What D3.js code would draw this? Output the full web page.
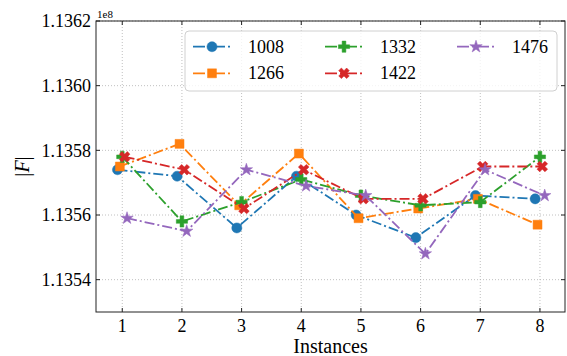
<!DOCTYPE html>
<html>
<head>
<meta charset="utf-8">
<script src="https://cdn.jsdelivr.net/npm/d3@7/dist/d3.min.js"></script>
<style>
  html, body { margin: 0; padding: 0; background: #fff; }
  svg { display: block; }
</style>
</head>
<body>
<svg id="chart" width="567" height="356"></svg>
<script>
// Instances along the x axis
const instances = [1, 2, 3, 4, 5, 6, 7, 8];
// Series names (shown in the legend)
const seriesNames = ["1008", "1266", "1332", "1422", "1476"];
// |F| values per series, in units of 1e8
const values1008 = [1.13574, 1.13572, 1.13556, 1.13572, 1.13560, 1.13553, 1.13566, 1.13565];
const values1266 = [1.13575, 1.13582, 1.13563, 1.13579, 1.13559, 1.13562, 1.13565, 1.13557];
const values1332 = [1.13578, 1.13558, 1.13564, 1.13571, 1.13566, 1.13563, 1.13564, 1.13578];
const values1422 = [1.13578, 1.13574, 1.13562, 1.13574, 1.13565, 1.13565, 1.13575, 1.13575];
const values1476 = [1.13559, 1.13555, 1.13574, 1.13569, 1.13566, 1.13548, 1.13574, 1.13566];
// Axis ticks
const yTicks = [1.1354, 1.1356, 1.1358, 1.1360, 1.1362];
const yTickLabels = ["1.1354", "1.1356", "1.1358", "1.1360", "1.1362"];
const xTicks = [1, 2, 3, 4, 5, 6, 7, 8];

const colors = ["#1f77b4", "#ff7f0e", "#2ca02c", "#d62728", "#9467bd"];
const allValues = [values1008, values1266, values1332, values1422, values1476];
// small horizontal shift per series so markers do not overlap
const shifts = [-0.08, -0.04, 0, 0.04, 0.08];

const FONT = "Liberation Serif";
const svg = d3.select("#chart");
const m = { left: 96, right: 565, top: 21, bottom: 312 };

const x = d3.scaleLinear().domain([0.56, 8.42]).range([m.left, m.right]);
const y = d3.scaleLinear().domain([1.1353, 1.1362]).range([m.bottom, m.top]);

// grid
const grid = svg.append("g");
grid.selectAll("line.gx").data(xTicks).join("line")
  .attr("x1", d => x(d)).attr("x2", d => x(d))
  .attr("y1", m.top).attr("y2", m.bottom)
  .attr("stroke", "#b0b0b0").attr("stroke-width", 0.8).attr("stroke-dasharray", "1,2");
grid.selectAll("line.gy").data(yTicks).join("line")
  .attr("x1", m.left).attr("x2", m.right)
  .attr("y1", d => y(d)).attr("y2", d => y(d))
  .attr("stroke", "#b0b0b0").attr("stroke-width", 0.8).attr("stroke-dasharray", "1,2");

// symbol generators
const symCircle = d3.symbol().type(d3.symbolCircle).size(80)();
const symSquare = d3.symbol().type(d3.symbolSquare).size(80)();
const symPlus = d3.symbol().type(d3.symbolCross).size(70)();
const symStar = d3.symbol().type(d3.symbolStar).size(48)();
const markers = [
  { d: symCircle, rot: 0 },
  { d: symSquare, rot: 0 },
  { d: symPlus, rot: 0 },
  { d: symPlus, rot: 45 },
  { d: symStar, rot: 0 }
];

const dash = "10,3,2,3";
const line = d3.line();

allValues.forEach((vals, i) => {
  const pts = vals.map((v, j) => [x(instances[j] + shifts[i]), y(v)]);
  const g = svg.append("g");
  g.append("path").attr("d", line(pts))
    .attr("fill", "none").attr("stroke", colors[i])
    .attr("stroke-width", 1.8).attr("stroke-dasharray", dash);
  g.selectAll("path.mk").data(pts).join("path")
    .attr("class", "mk")
    .attr("d", markers[i].d)
    .attr("transform", p => `translate(${p[0]},${p[1]}) rotate(${markers[i].rot})`)
    .attr("fill", colors[i]).attr("stroke", colors[i]).attr("stroke-width", 0.5);
});

// frame and inward ticks
const axisColor = "#222";
const tickLen = 4;
svg.append("rect").attr("x", m.left).attr("y", m.top)
  .attr("width", m.right - m.left).attr("height", m.bottom - m.top)
  .attr("fill", "none").attr("stroke", axisColor).attr("stroke-width", 1);
const ticks = svg.append("g").attr("stroke", axisColor).attr("stroke-width", 1);
xTicks.forEach(t => {
  ticks.append("line").attr("x1", x(t)).attr("x2", x(t)).attr("y1", m.bottom).attr("y2", m.bottom - tickLen);
  ticks.append("line").attr("x1", x(t)).attr("x2", x(t)).attr("y1", m.top).attr("y2", m.top + tickLen);
});
yTicks.forEach(t => {
  ticks.append("line").attr("x1", m.left).attr("x2", m.left + tickLen).attr("y1", y(t)).attr("y2", y(t));
  ticks.append("line").attr("x1", m.right).attr("x2", m.right - tickLen).attr("y1", y(t)).attr("y2", y(t));
});

// tick labels
svg.append("g").selectAll("text").data(xTicks).join("text")
  .attr("font-family", FONT)
  .attr("x", d => x(d)).attr("y", m.bottom + 20)
  .attr("text-anchor", "middle").attr("font-size", 18).attr("fill", "#000")
  .text(d => d);
svg.append("g").selectAll("text").data(yTicks).join("text")
  .attr("font-family", FONT)
  .attr("x", m.left - 5).attr("y", d => y(d) + 6.3)
  .attr("text-anchor", "end").attr("font-size", 18).attr("fill", "#000")
  .text((d, i) => yTickLabels[i]);

// offset label
svg.append("text").attr("font-family", FONT).attr("x", m.left + 1).attr("y", 17.5)
  .attr("font-size", 11).attr("fill", "#000").text("1e8");

// axis titles
svg.append("text").attr("font-family", FONT)
  .attr("x", (m.left + m.right) / 2).attr("y", 353)
  .attr("text-anchor", "middle").attr("font-size", 20).attr("fill", "#000")
  .text("Instances");
const yl = svg.append("text").attr("font-family", FONT)
  .attr("transform", `translate(29,${(m.top + m.bottom) / 2}) rotate(-90)`)
  .attr("text-anchor", "middle").attr("font-size", 20).attr("fill", "#000");
yl.append("tspan").text("|");
yl.append("tspan").attr("font-style", "italic").text("F");
yl.append("tspan").text("|");

// legend
const lg = svg.append("g");
lg.append("rect").attr("x", 185).attr("y", 31).attr("width", 372).attr("height", 60)
  .attr("rx", 4).attr("fill", "#fff").attr("fill-opacity", 0.8)
  .attr("stroke", "#d0d0d0").attr("stroke-width", 1);
const colX = [193, 325, 457];
const rowY = [46.7, 73.3];
seriesNames.forEach((name, i) => {
  const c = Math.floor(i / 2), r = i % 2;
  const x0 = colX[c], yy = rowY[r];
  lg.append("line").attr("x1", x0).attr("x2", x0 + 38).attr("y1", yy).attr("y2", yy)
    .attr("stroke", colors[i]).attr("stroke-width", 1.8).attr("stroke-dasharray", "12,3,2,3");
  lg.append("path").attr("d", markers[i].d)
    .attr("transform", `translate(${x0 + 19},${yy}) rotate(${markers[i].rot})`)
    .attr("fill", colors[i]).attr("stroke", colors[i]).attr("stroke-width", 0.5);
  lg.append("text").attr("font-family", FONT).attr("x", x0 + 55).attr("y", yy + 6)
    .attr("font-size", 18).attr("fill", "#000").text(name);
});
</script>
</body>
</html>
